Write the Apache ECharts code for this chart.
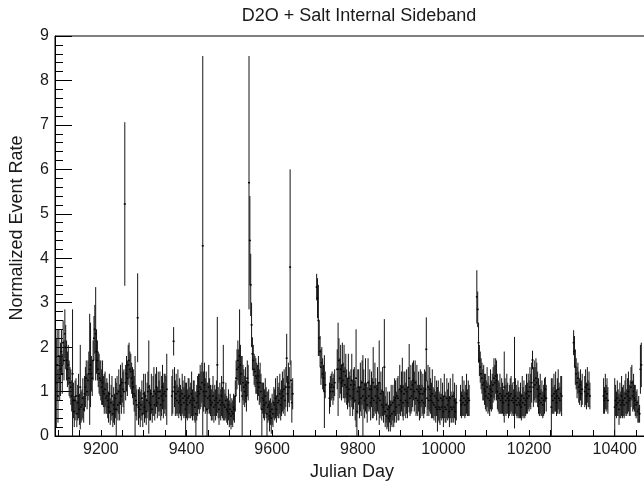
<!DOCTYPE html>
<html>
<head>
<meta charset="utf-8">
<script src="https://cdn.jsdelivr.net/npm/echarts@6/dist/echarts.min.js"></script>
<style>
html,body{margin:0;padding:0;background:#fff;}
#chart{width:644px;height:481px;}
</style>
</head>
<body>
<div id="chart"></div>
<script>
// ---- tick labels ----
const xLabelDays = [9200, 9400, 9600, 9800, 10000, 10200, 10400];
const xTickDays = [9100,9150,9200,9250,9300,9350,9400,9450,9500,9550,9600,9650,9700,9750,9800,9850,9900,9950,10000,10050,10100,10150,10200,10250,10300,10350,10400,10450];

// ---- data blocks: first day, then one value every 2 days ----
const blockStarts = [9096, 9366, 9704, 9734, 9752, 10040, 10078, 10252, 10304, 10330, 10374, 10400];

const rateB1 = [
1.2,1.6,0.9,1.8,1.3,1.5,1.9,1.4,2.1,1.7,
2.3,2.0,1.7,1.5,1.6,1.3,1.2,1.1,0.9,1.4,
0.8,0.55,0.8,0.9,0.5,0.75,0.9,0.6,1.1,0.65,
0.7,0.85,0.6,0.95,1.1,1.3,1.0,1.25,1.4,1.5,
1.6,1.4,1.3,1.7,2.2,2.4,2.3,1.9,1.7,1.5,
1.4,1.3,1.25,1.1,1.2,1.0,0.95,1.05,0.85,0.9,
0.8,0.65,0.95,0.55,0.75,0.9,0.5,0.7,0.6,0.85,
0.6,0.95,0.7,1.0,0.75,1.15,0.9,1.2,1.05,1.0,
5.22,1.2,1.4,1.3,1.6,1.7,1.5,1.45,1.3,1.2,
1.1,0.95,0.9,0.8,0.7,2.66,0.65,0.75,0.6,0.7,
0.85,0.5,0.95,0.65,0.9,0.55,0.8,1.0,1.1,0.75,
0.7,0.95,0.6,0.9,1.0,0.7,0.95,1.1,0.75,1.0,
0.85,1.0,0.7,0.9,1.1,0.8,0.95,1.0,0.9,1.05];
const errB1 = [
1.0,0.8,0.6,0.6,0.5,0.6,0.5,0.45,0.5,0.45,
0.55,0.5,0.45,0.4,0.45,0.4,0.35,0.4,0.35,1.45,
0.4,0.35,0.45,0.4,0.3,0.4,0.5,0.35,0.95,0.35,
0.35,0.45,0.3,0.4,0.45,0.4,0.4,0.45,0.5,1.25,
0.95,0.4,0.4,0.45,0.5,0.55,1.05,0.5,0.45,0.4,
0.45,0.4,0.45,0.4,0.5,0.35,0.45,0.4,0.35,0.4,
0.4,0.35,0.45,0.3,0.4,0.45,0.3,0.4,0.35,0.45,
0.6,0.4,0.35,0.5,0.4,0.45,0.4,0.45,0.4,0.5,
1.84,0.4,0.4,0.4,0.45,0.4,0.4,0.4,0.35,0.35,
0.4,0.4,0.9,0.35,0.35,1.0,0.4,0.35,0.4,0.35,
0.4,0.3,0.45,0.35,0.5,0.3,0.4,0.45,1.05,0.4,
0.35,0.45,0.3,0.45,0.55,0.35,0.45,0.45,0.35,0.45,
0.4,0.45,0.35,0.45,0.5,0.4,0.45,0.4,0.45,0.8];

const rateB2 = [
0.9,1.0,2.13,1.1,0.85,0.95,0.8,1.0,0.75,0.9,
0.8,0.7,0.95,0.85,0.75,0.9,0.6,0.8,0.7,0.85,
0.9,0.75,0.8,0.95,0.7,0.85,0.8,0.65,0.5,0.75,
0.9,1.0,0.95,1.1,1.05,1.2,4.28,1.0,1.15,0.9,
1.0,0.6,0.85,1.1,0.9,0.8,0.7,0.75,0.9,0.65,
0.8,0.7,0.85,1.6,0.75,0.6,0.8,0.7,0.9,0.75,
1.2,0.7,0.65,0.8,0.6,0.55,0.7,0.5,0.6,0.45,
0.55,0.5,0.65,0.6,0.9,1.3,1.5,1.7,1.55,1.8,
1.6,1.4,0.9,1.2,1.1,1.0,1.15,0.9,1.3,1.2,
5.7,4.4,3.4,2.5,1.85,1.7,1.5,1.45,1.35,1.3,
1.2,1.35,1.1,1.2,1.0,0.6,0.85,0.8,0.7,0.9,
0.75,0.5,0.65,0.7,0.45,0.55,0.4,0.6,0.5,0.75,
0.7,0.85,0.6,0.9,0.75,0.8,0.95,0.7,0.85,1.0,
0.9,1.05,0.8,1.1,1.75,0.95,1.2,1.1,3.8,1.25,
0.75,0.95];
const errB2 = [
0.45,0.5,0.32,0.45,0.4,0.45,0.35,0.5,0.35,0.4,
0.35,0.35,0.45,0.4,0.35,0.45,0.6,0.4,0.35,0.45,
0.4,0.35,0.4,0.5,0.35,0.4,0.45,0.35,0.5,0.4,
0.45,0.4,0.45,0.5,0.4,0.45,4.27,0.45,0.5,0.4,
0.45,0.6,0.35,0.5,0.4,0.35,0.35,0.4,0.45,0.35,
0.35,0.35,0.4,1.08,0.35,0.35,0.4,0.35,0.45,0.35,
0.85,0.35,0.3,0.4,0.3,0.3,0.35,0.3,0.35,0.3,
0.3,0.3,0.3,0.3,0.35,0.4,0.45,0.45,0.4,1.05,
0.45,0.4,0.9,0.4,0.4,0.35,0.4,0.35,0.4,0.4,
2.85,1.0,0.7,0.5,0.37,0.35,0.35,0.35,0.4,0.35,
0.4,0.45,0.4,0.45,0.4,0.6,0.35,0.4,0.35,0.4,
0.35,0.5,0.35,0.35,0.35,0.3,0.35,0.35,0.3,0.35,
0.35,0.45,0.3,0.45,0.35,0.4,0.45,0.35,0.4,0.45,
0.4,0.45,0.35,0.45,0.55,0.4,0.45,0.45,2.2,0.45,
0.45,0.35];

const rateB3 = [3.35,3.1,2.6,2.2,1.9,1.55,1.65,1.4,1.3,1.0,1.15];
const errB3  = [0.3,0.45,0.8,0.4,0.35,0.4,0.35,0.35,0.3,0.82,0.3];

const rateB4 = [0.85,1.0,1.1,1.15,1.0,1.1,1.2];
const errB4  = [0.35,0.35,0.3,0.3,0.3,0.3,0.3];

const rateB5 = [
1.5,1.5,1.7,1.3,1.5,1.2,1.6,1.25,1.45,1.15,
1.35,1.1,0.95,1.3,1.05,0.9,1.15,1.25,0.85,1.05,
1.15,0.8,1.3,0.55,1.0,1.1,0.75,1.1,0.85,1.2,
0.9,1.05,0.8,1.15,0.85,0.7,1.2,0.9,1.05,0.75,
1.05,0.85,1.2,0.8,1.1,0.9,0.75,1.05,0.85,1.2,
0.8,0.95,0.7,1.0,0.65,1.55,0.55,0.7,0.45,0.6,
0.4,0.65,0.45,0.7,0.5,0.75,0.55,0.8,0.85,0.65,
0.9,0.85,0.7,1.05,0.8,1.0,1.1,0.75,0.95,1.05,
0.8,1.0,0.75,1.1,1.3,0.85,1.05,0.9,1.15,1.25,
1.0,1.2,0.85,1.05,0.8,1.0,0.75,0.95,1.05,0.8,
0.95,0.75,1.0,1.05,1.95,0.85,1.1,0.8,1.05,0.9,
0.8,0.95,0.75,0.7,0.9,0.65,0.85,0.6,0.8,0.65,
0.6,0.85,0.65,0.8,0.55,0.9,0.65,0.6,0.85,0.7,
0.8,0.55,0.85,0.65,0.6,0.9,0.65,0.8,0.55,0.75];
const errB5 = [
0.45,1.05,0.5,0.45,0.55,0.4,0.5,0.4,0.6,0.4,
0.5,0.4,0.35,0.55,0.4,0.45,0.35,0.6,0.4,0.45,
0.4,0.45,1.1,0.55,0.5,0.4,0.35,0.55,0.4,0.5,
0.92,0.45,0.4,0.6,0.35,0.4,0.55,0.35,0.45,0.4,
0.4,0.45,0.8,0.35,0.55,0.4,0.4,0.5,0.35,0.95,
0.4,0.5,0.35,0.55,0.35,1.08,0.35,0.4,0.3,0.4,
0.3,0.35,0.35,0.45,0.3,0.4,0.35,0.5,0.4,0.35,
0.4,0.5,0.35,0.55,0.35,0.45,0.66,0.4,0.5,0.4,
0.4,0.5,0.35,0.45,0.77,0.4,0.55,0.35,0.5,0.45,
0.45,0.5,0.4,0.55,0.35,0.45,0.4,0.55,0.4,0.35,
0.45,0.35,0.5,0.4,0.72,0.4,0.5,0.35,0.5,0.4,
0.4,0.55,0.35,0.35,0.45,0.35,0.4,0.5,0.45,0.35,
0.35,0.45,0.3,0.4,0.35,0.5,0.35,0.3,0.45,0.35,
0.4,0.35,0.45,0.35,0.3,0.5,0.35,0.4,0.3,0.4];

const rateB6 = [0.8,0.7,0.9,0.75,0.85,0.7,0.8,0.95,0.75,0.85,0.8];
const errB6  = [0.35,0.3,0.45,0.3,0.4,0.3,0.35,0.45,0.3,0.4,0.35];

const rateB7 = [
3.13,2.85,2.1,1.7,1.55,1.4,1.3,1.15,1.2,1.05,
1.0,0.9,1.1,0.85,0.95,0.8,1.05,0.9,1.0,1.15,
1.3,1.2,1.35,1.25,1.0,0.9,0.85,0.95,0.8,0.9,
0.85,0.75,1.1,0.9,0.8,0.95,0.85,0.7,0.8,0.9,
0.95,0.8,0.85,0.75,1.2,0.9,0.8,0.7,0.85,0.75,
0.7,0.8,0.65,0.9,0.75,0.85,0.7,0.8,0.95,0.85,
1.0,0.9,1.1,1.0,1.2,1.71,1.1,1.25,1.15,1.3,
1.2,1.05,0.9,0.8,0.95,0.75,0.85,0.7,0.8,0.9,
1.05,0.85];
const errB7 = [
0.6,0.4,0.45,0.35,0.35,0.35,0.35,0.35,0.4,0.35,
0.4,0.35,0.45,0.35,0.4,0.35,0.45,0.35,0.4,0.4,
0.45,0.4,0.4,0.45,0.4,0.35,0.35,0.45,0.3,0.4,
0.35,0.3,0.8,0.4,0.35,0.45,0.35,0.3,0.35,0.4,
0.4,0.35,0.35,0.3,1.03,0.4,0.35,0.3,0.4,0.35,
0.3,0.4,0.3,0.45,0.35,0.4,0.3,0.35,0.45,0.35,
0.4,0.35,0.45,0.4,0.45,0.21,0.45,0.45,0.4,0.45,
0.45,0.4,0.4,0.35,0.45,0.3,0.4,0.3,0.35,0.4,
0.28,0.3];

const rateB8 = [0.65,0.9,0.8,0.95,0.85,1.0,0.75,0.9,1.05,0.85,0.8,0.95,0.9];
const errB8  = [0.65,0.4,0.3,0.45,0.3,0.45,0.3,0.4,0.45,0.35,0.3,0.4,0.45];

const rateB9 = [2.1,1.9,1.55,1.4,1.2,1.3,1.1,1.0,1.15,0.95,1.05];
const errB9  = [0.28,0.35,0.4,0.35,0.35,0.35,0.35,0.3,0.35,0.3,0.35];

const rateB10 = [1.0,1.1,0.9,1.15,0.95,1.05,0.9];
const errB10  = [0.35,0.4,0.3,0.4,0.3,0.4,0.3];

const rateB11 = [0.9,0.8,1.0,0.85,0.95,0.8];
const errB11  = [0.4,0.3,0.4,0.3,0.35,0.3];

const rateB12 = [
0.65,0.8,0.7,0.85,0.75,0.6,0.8,0.7,0.9,0.75,
0.8,0.7,0.85,0.95,0.75,0.9,1.0,0.8,0.85,1.1,
1.2,0.9,1.0,0.85,0.8,0.7,0.75,0.55,0.6,0.5,
1.5,1.6];
const errB12 = [
0.65,0.35,0.3,0.4,0.3,0.35,0.4,0.3,0.45,0.35,
0.35,0.3,0.4,0.45,0.3,0.4,0.45,0.35,0.4,0.45,
0.4,0.35,0.4,0.3,0.35,0.3,0.3,0.25,0.3,0.2,
0.55,0.5];

const rateBlocks = [rateB1, rateB2, rateB3, rateB4, rateB5, rateB6, rateB7, rateB8, rateB9, rateB10, rateB11, rateB12];
const errBlocks  = [errB1, errB2, errB3, errB4, errB5, errB6, errB7, errB8, errB9, errB10, errB11, errB12];
const dayStep = 2;

const points = [];
rateBlocks.forEach(function (vals, b) {
  vals.forEach(function (v, i) {
    points.push([blockStarts[b] + dayStep * i, v, errBlocks[b][i]]);
  });
});

const chart = echarts.init(document.getElementById('chart'), null, {renderer: 'canvas'});
const FONT = 'Liberation Sans, Arial, Helvetica, sans-serif';
const TXT = '#1a1a1a';

chart.setOption({
  animation: false,
  backgroundColor: '#ffffff',
  title: {
    text: 'D2O + Salt Internal Sideband',
    left: 354,
    textAlign: 'center',
    top: 2,
    textStyle: {fontFamily: FONT, fontSize: 18, fontWeight: 'normal', color: TXT}
  },
  grid: {left: 55, right: -5, top: 36, bottom: 45, containLabel: false, outerBoundsMode: 'none', show: true, borderColor: '#000', borderWidth: 1},
  xAxis: {
    type: 'value',
    min: 9093,
    max: 10480,
    name: 'Julian Day',
    nameLocation: 'middle',
    nameGap: 21,
    nameTextStyle: {fontFamily: FONT, fontSize: 18, color: TXT},
    axisLine: {lineStyle: {color: '#000', width: 1}},
    axisTick: {show: true, inside: true, length: 6, customValues: xTickDays, lineStyle: {color: '#000'}},
    axisLabel: {customValues: xLabelDays, formatter: function (v) { return String(v); }, fontFamily: FONT, fontSize: 16, color: TXT, margin: 6},
    splitLine: {show: false}
  },
  yAxis: {
    type: 'value',
    min: 0,
    max: 9,
    interval: 1,
    name: 'Normalized Event Rate',
    nameLocation: 'middle',
    nameGap: 29,
    nameTextStyle: {fontFamily: FONT, fontSize: 18, color: TXT, padding: [0, 0, 0, 16]},
    axisLine: {show: true, lineStyle: {color: '#000', width: 1}},
    axisTick: {show: true, inside: true, length: 17, lineStyle: {color: '#000'}},
    minorTick: {show: true, splitNumber: 5, length: 8, lineStyle: {color: '#000'}},
    axisLabel: {fontFamily: FONT, fontSize: 16, color: TXT, margin: 6},
    splitLine: {show: false},
    minorSplitLine: {show: false}
  },
  series: [{
    type: 'custom',
    clip: true,
    data: points,
    encode: {x: 0, y: 1},
    renderItem: function (params, api) {
      const d = api.value(0), v = api.value(1), e = api.value(2);
      const p = api.coord([d, v]);
      const lo = api.coord([d, v - e]);
      const hi = api.coord([d, v + e]);
      return {
        type: 'group',
        children: [
          {type: 'line', shape: {x1: p[0], y1: lo[1], x2: p[0], y2: hi[1]}, style: {stroke: '#141414', lineWidth: 1}},
          {type: 'rect', shape: {x: p[0] - 1, y: p[1] - 0.75, width: 2, height: 1.5}, style: {fill: '#000'}}
        ]
      };
    }
  }]
});
</script>
</body>
</html>
